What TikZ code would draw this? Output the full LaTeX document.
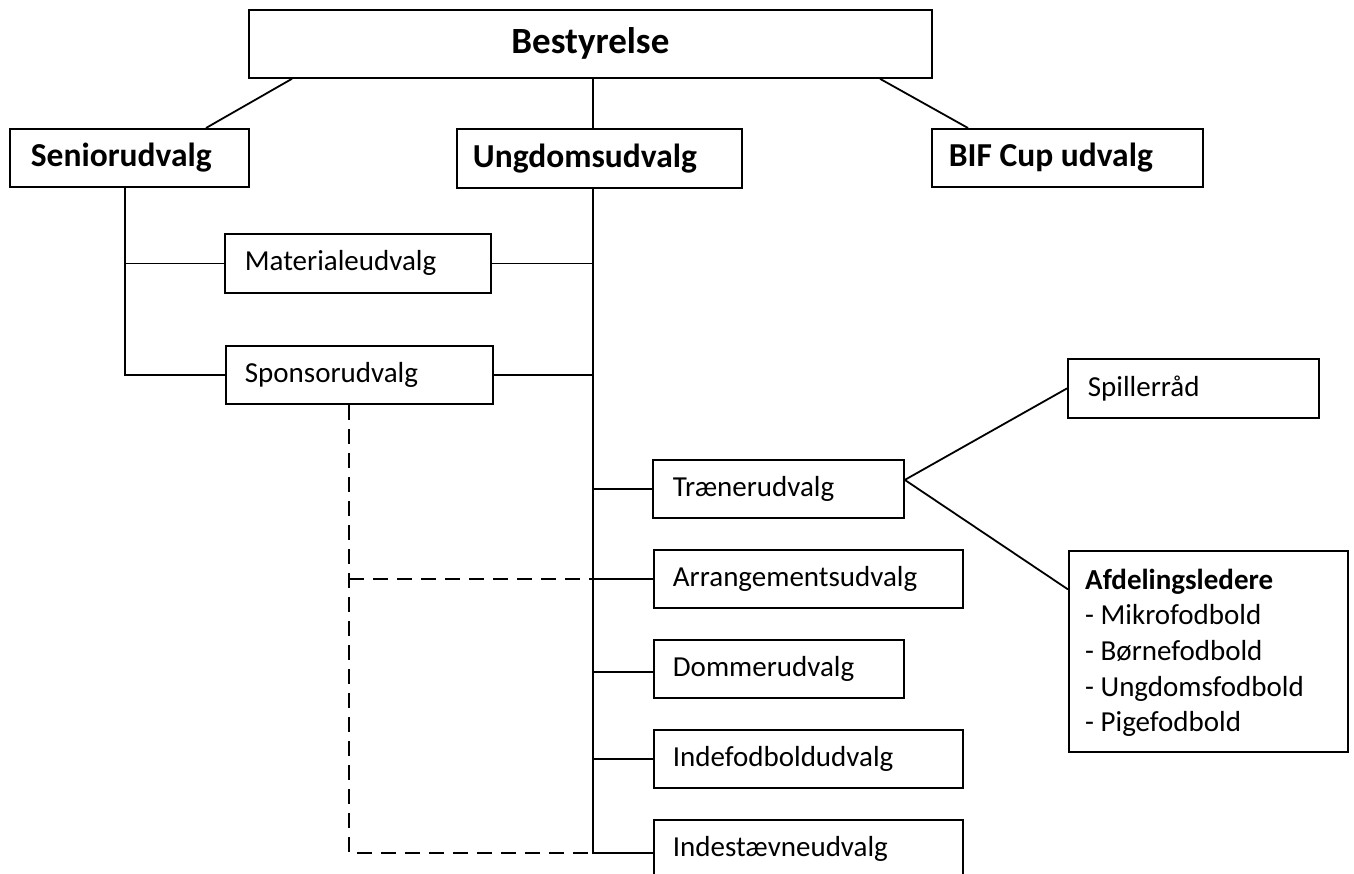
\documentclass[tikz,border=0pt]{standalone}
\usepackage{fontspec}
\setmainfont{Carlito}
\usetikzlibrary{calc}
\begin{document}
\begin{tikzpicture}[x=1pt,y=-1pt,
  box/.style={draw, line width=1.8pt, inner ysep=0pt, anchor=north west, align=flush left, minimum height=58pt},
  ln/.style={line width=1.8pt},
  dsh/.style={line width=1.8pt, dash pattern=on 15pt off 9pt},
  big/.style={font=\bfseries\fontsize{37}{40}\selectfont},
  mid/.style={font=\bfseries\fontsize{33.5}{36}\selectfont},
  norm/.style={font=\fontsize{29}{32}\selectfont}]
\useasboundingbox (0,0) rectangle (1354,873);
% top rows
\node[box, big, align=center, inner xsep=0pt, text width=683pt, minimum height=68pt] (best) at (248,9) {\raisebox{-3pt}{Bestyrelse}};
\node[box, mid, inner xsep=21pt, text width=197pt] (sen) at (9,128) {Seniorudvalg};
\node[box, mid, inner xsep=16pt, text width=253pt, minimum height=59pt] (ung) at (456,128) {Ungdomsudvalg};
\node[box, mid, inner xsep=17pt, text width=237pt] (bif) at (931,128) {BIF Cup udvalg};
% left column
\node[box, norm, inner xsep=20pt, text width=226pt, minimum height=59pt] (mat) at (224,233) {Materialeudvalg};
\node[box, norm, inner xsep=19pt, text width=229pt] (spo) at (225,345) {Sponsorudvalg};
% right column
\node[box, norm, inner xsep=20pt, text width=211pt] (tr) at (652,459) {Trænerudvalg};
\node[box, norm, inner xsep=19pt, text width=271pt] (arr) at (653,549) {Arrangementsudvalg};
\node[box, norm, inner xsep=19pt, text width=212pt] (dom) at (653,639) {Dommerudvalg};
\node[box, norm, inner xsep=19pt, text width=271pt] (ind) at (653,729) {Indefodboldudvalg};
\node[box, norm, inner xsep=19pt, text width=271pt] (inst) at (653,819) {Indestævneudvalg};
% far right
\node[box, norm, inner xsep=20pt, text width=211pt, minimum height=59pt] (spil) at (1067,358) {Spillerråd};
\node[box, inner sep=0pt, minimum width=279pt, minimum height=201pt] (afd) at (1068,550) {};
\node[anchor=base west, align=flush left, inner sep=0pt, text width=250pt, font=\fontsize{29}{35.7}\selectfont] (afdt) at (1085,589) {\textbf{Afdelingsledere}\\- Mikrofodbold\\- Børnefodbold\\- Ungdomsfodbold\\- Pigefodbold};
% connectors from Bestyrelse
\draw[ln] ([xshift=44pt]best.south west) -- ([xshift=197pt]sen.north west);
\draw[ln] ([xshift=345pt]best.south west) -- ([xshift=137pt]ung.north west);
\draw[ln] ([xshift=632pt]best.south west) -- ([xshift=37pt]bif.north west);
% Senior column
\coordinate (sv) at ([xshift=116pt]sen.south west);
\draw[ln] (sv) |- (spo.west);
\draw[ln] (mat.west) -- (mat.west -| sv);
% Ungdom column
\coordinate (uv) at ([xshift=137pt]ung.south west);
\coordinate (bl) at ([yshift=-4pt]inst.west);
\draw[ln] (uv) |- (bl);
\draw[ln] (mat.east) -- (mat.east -| uv);
\draw[ln] (spo.east) -- (spo.east -| uv);
\draw[ln] (tr.west) -- (tr.west -| uv);
\draw[ln] (arr.west) -- (arr.west -| uv);
\draw[ln] ([yshift=-3pt]dom.west) -- ([yshift=-3pt]dom.west -| uv);
\draw[ln] (ind.west) -- (ind.west -| uv);
% Traener branches
\coordinate (tj) at ([yshift=9pt]tr.east);
\draw[ln] (spil.west) -- (tj) -- ([yshift=62pt]afd.west);
% dashed
\coordinate (dv) at ([xshift=124pt]spo.south west);
\draw[dsh] (dv) |- (uv |- bl);
\draw[dsh] (dv |- arr.west) -- (uv |- arr.west);
\end{tikzpicture}
\end{document}
